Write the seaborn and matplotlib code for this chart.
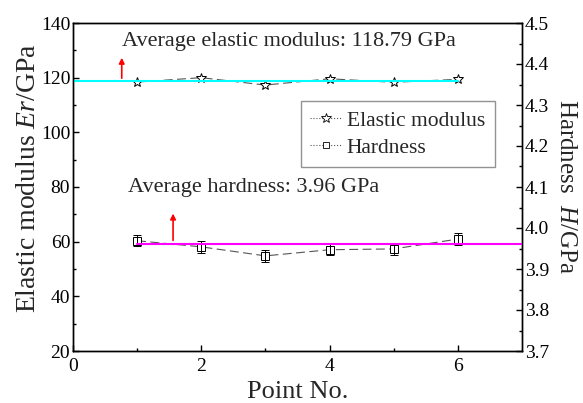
import matplotlib
matplotlib.use("Agg")
import matplotlib.pyplot as plt
import seaborn as sns
import numpy as np
import pandas as pd
from matplotlib.lines import Line2D

# ---- data ----
points = [1, 2, 3, 4, 5, 6]
modulus = [118.4, 120.0, 117.3, 119.6, 118.3, 119.4]
hardness = [3.969, 3.954, 3.932, 3.947, 3.949, 3.973]
hardness_err = [0.014, 0.015, 0.014, 0.013, 0.014, 0.014]
avg_modulus = 118.79
avg_hardness = 3.96
modulus_label = "Average elastic modulus: 118.79 GPa"
hardness_label = "Average hardness: 3.96 GPa"

sns.set_style("ticks")
plt.rcParams['font.family'] = ['Liberation Serif', 'DejaVu Serif']
plt.rcParams['mathtext.fontset'] = 'custom'
plt.rcParams['mathtext.it'] = 'Liberation Serif:italic'
plt.rcParams['mathtext.rm'] = 'Liberation Serif'

fig = plt.figure(figsize=(5.83, 4.03), dpi=100)
ax = fig.add_axes([73/583, 52/403, 449/583, 328/403])
ax2 = ax.twinx()

df = pd.DataFrame({"Point": points, "Er": modulus, "H": hardness})

line_kw = dict(color="#555555", linewidth=0.8, dashes=(8, 4))

sns.lineplot(data=df, x="Point", y="Er", ax=ax, marker="*", markersize=7,
             markerfacecolor="white", markeredgecolor="black", markeredgewidth=0.7,
             **line_kw)
ax.plot([0, 6], [avg_modulus, avg_modulus], color="#00FFFF", linewidth=1.5, zorder=3)

sns.lineplot(data=df, x="Point", y="H", ax=ax2, marker="s", markersize=5.5,
             markerfacecolor="white", markeredgecolor="black", markeredgewidth=0.7,
             **line_kw)
ax2.errorbar(points, hardness, yerr=hardness_err, fmt="none", ecolor="black",
             elinewidth=0.7, capsize=3, capthick=0.7)
ax2.plot([1, 7], [avg_hardness, avg_hardness], color="#FF00FF", linewidth=1.5, zorder=3)

# arrows
ax.annotate("", xy=(0.76, 128.3), xytext=(0.76, avg_modulus),
            arrowprops=dict(arrowstyle="-|>", color="red", lw=1.2, mutation_scale=8))
ax2.annotate("", xy=(1.56, 4.042), xytext=(1.56, 3.963),
             arrowprops=dict(arrowstyle="-|>", color="red", lw=1.2, mutation_scale=8))

ax.text(0.77, 133.2, modulus_label, fontsize=16, va="center", ha="left")
ax2.text(0.86, 4.10, hardness_label, fontsize=16, va="center", ha="left")

# axes
ax.set_xlim(0, 7)
ax.set_ylim(20, 140)
ax2.set_ylim(3.7, 4.5)
ax.set_xticks([0, 2, 4, 6])
ax.set_xticks([1, 3, 5], minor=True)
ax.set_yticks(np.arange(20, 141, 20))
ax.set_yticks(np.arange(30, 140, 20), minor=True)
ax2.set_yticks(np.round(np.arange(3.7, 4.51, 0.1), 1))
ax2.set_yticks(np.round(np.arange(3.75, 4.5, 0.1), 2), minor=True)
ax2.set_yticklabels([f"{v:.1f}" for v in np.arange(3.7, 4.51, 0.1)])

for a in (ax, ax2):
    a.tick_params(which="both", direction="in", labelsize=14, width=1, colors="black", pad=2)
    a.tick_params(which="major", length=4)
    a.tick_params(which="minor", length=2.5)
    for s in a.spines.values():
        s.set_linewidth(1.0)
        s.set_color("black")
        s.set_visible(True)
ax.tick_params(axis="x", pad=5)

ax.set_xlabel("Point No.", fontsize=19, labelpad=4.5)
ax.set_ylabel("Elastic modulus $\\mathit{Er}$/GPa", fontsize=20)
ax.yaxis.set_label_coords(-0.072, 0.527)
ax2.set_ylabel("Hardness  $\\mathit{H}$/GPa", fontsize=18, rotation=270, labelpad=20)

handles = [
    Line2D([], [], color="#555555", linestyle=":", linewidth=0.8, marker="*",
           markersize=7, markerfacecolor="white", markeredgecolor="black", markeredgewidth=0.6),
    Line2D([], [], color="#555555", linestyle=":", linewidth=0.8, marker="s",
           markersize=4.5, markerfacecolor="white", markeredgecolor="black", markeredgewidth=0.6),
]
leg = ax2.legend(handles, ["Elastic modulus", "Hardness"], loc="upper left",
                 bbox_to_anchor=(0.507, 0.762), fontsize=15.5, frameon=True,
                 fancybox=False, edgecolor="#777777", handlelength=1.45,
                 handletextpad=0.25, borderpad=0.45, labelspacing=0.32, borderaxespad=0)
leg.get_frame().set_linewidth(1.0)

fig.savefig("out.png", dpi=100)
